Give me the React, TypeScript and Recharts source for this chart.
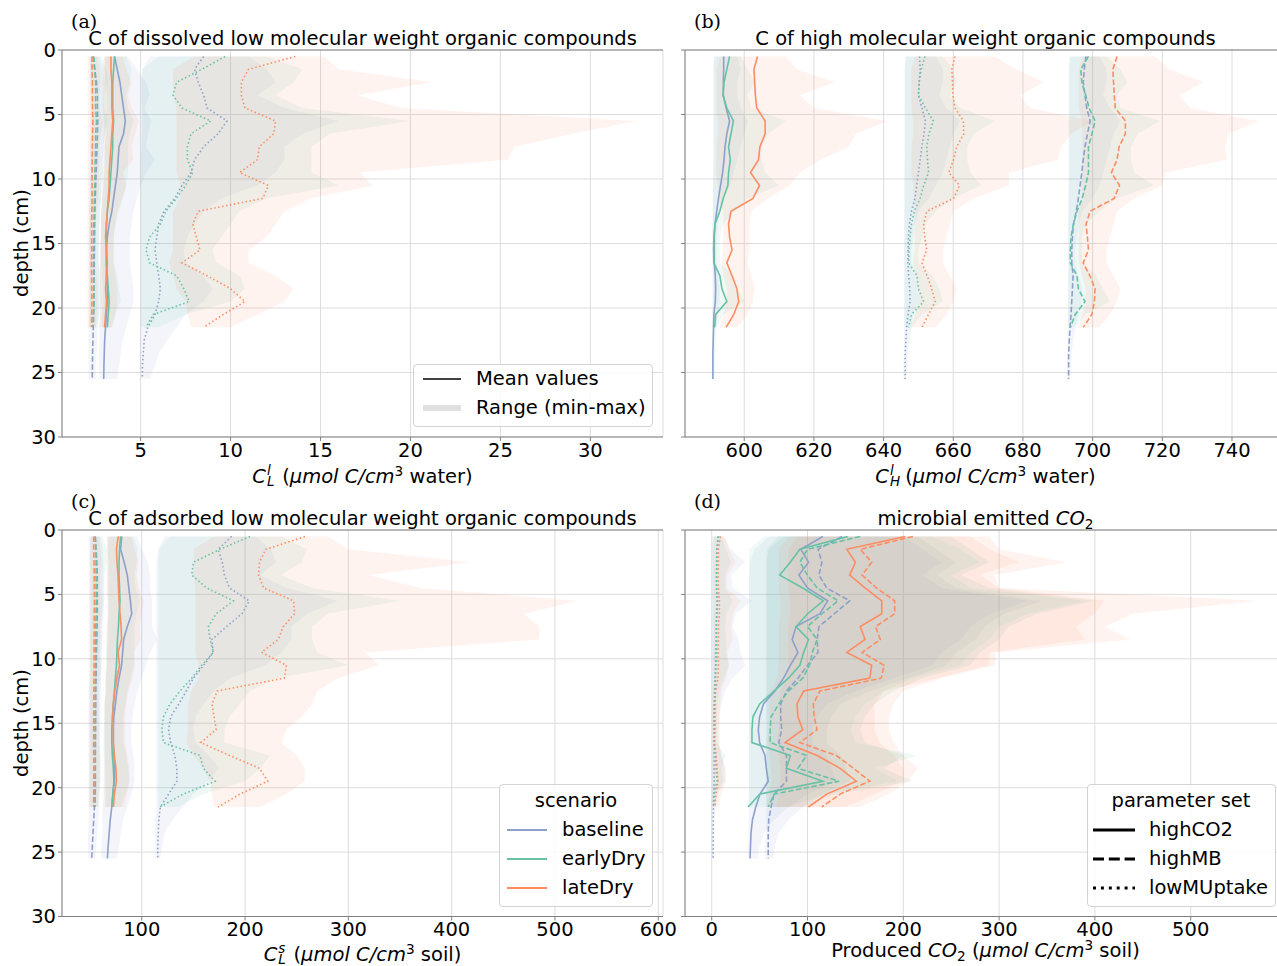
import React from "react";
import { ComposedChart, Line, Area, XAxis, YAxis, CartesianGrid, ReferenceLine } from "recharts";

const FONT = '"DejaVu Sans", "Liberation Sans", sans-serif';
const SERIF = '"DejaVu Serif", "Liberation Serif", serif';
const FS = 19.5;
const AXIS_GRAY = "#808080";
const GRID_GRAY = "#dddddd";
// Set2 colours: baseline, earlyDry, lateDry
const SET2 = ["#8da0cb", "#66c2a5", "#fc8d62"];
// line style per parameter set: highCO2, highMB, lowMUptake
const DASHES: (string | undefined)[] = [undefined, "5.5 2.4", "1.5 2.5"];

const SCENARIOS = ["baseline", "earlyDry", "lateDry"];
const PARAM_SETS = ["highCO2", "highMB", "lowMUptake"];

const DEPTHS = [0.5, 1.5, 2.5, 3.5, 4.5, 5.5, 6.5, 7.5, 8.5, 9.5, 10.5, 11.5, 12.5, 13.5, 14.5, 15.5, 16.5, 17.5, 18.5, 19.5, 20.5, 21.5, 22.5, 23.5, 24.5, 25.5];
const DEPTH_TICKS = [0, 5, 10, 15, 20, 25, 30];
const TICKS_A = [5, 10, 15, 20, 25, 30];
const TICKS_B = [600, 620, 640, 660, 680, 700, 720, 740];
const TICKS_C = [100, 200, 300, 400, 500, 600];
const TICKS_D = [0, 100, 200, 300, 400, 500];

// ---------- (a) dissolved LMW C ----------
const A_BASE_HC = [3.55, 3.7, 3.85, 3.95, 4.05, 4.15, 4.05, 3.8, 3.75, 3.7, 3.6, 3.5, 3.4, 3.25, 3.15, 3.1, 3.1, 3.1, 3.15, 3.15, 3.1, 3.05, 3.0, 2.98, 2.96, 2.95];
const A_BASE_HC_MIN = [3.0, 3.0, 3.05, 3.1, 3.1, 3.1, 3.1, 3.0, 3.0, 3.0, 2.95, 2.9, 2.85, 2.8, 2.8, 2.75, 2.75, 2.75, 2.75, 2.75, 2.75, 2.7, 2.7, 2.7, 2.7, 2.7];
const A_BASE_HC_MAX = [4.3, 4.8, 5.3, 5.5, 5.2, 5.6, 5.4, 5.3, 5.8, 5.3, 5.0, 4.8, 4.6, 4.5, 4.4, 4.4, 4.4, 4.5, 4.6, 4.6, 4.4, 4.2, 4.0, 3.9, 3.8, 3.7];
const A_BASE_HMB = [2.35, 2.45, 2.55, 2.6, 2.6, 2.62, 2.6, 2.58, 2.55, 2.53, 2.5, 2.48, 2.46, 2.45, 2.44, 2.43, 2.42, 2.41, 2.4, 2.4, 2.38, 2.37, 2.35, 2.33, 2.32, 2.31];
const A_BASE_HMB_MIN = [2.15, 2.2, 2.2, 2.25, 2.25, 2.25, 2.25, 2.2, 2.2, 2.2, 2.2, 2.2, 2.15, 2.15, 2.15, 2.15, 2.15, 2.15, 2.15, 2.15, 2.15, 2.1, 2.1, 2.1, 2.1, 2.1];
const A_BASE_HMB_MAX = [2.7, 2.9, 3.0, 3.0, 3.0, 3.1, 3.0, 2.95, 2.9, 2.85, 2.8, 2.8, 2.75, 2.7, 2.7, 2.7, 2.7, 2.7, 2.7, 2.7, 2.65, 2.6, 2.6, 2.55, 2.5, 2.5];
const A_BASE_LMU = [8.5, 8.0, 8.2, 8.5, 8.7, 9.8, 9.3, 8.5, 8.0, 7.8, 7.3, 6.9, 6.3, 6.0, 5.9, 5.8, 5.9, 6.0, 6.1, 6.0, 5.8, 5.4, 5.2, 5.15, 5.1, 5.1];
const A_BASE_LMU_MIN = [5.5, 5.1, 5.05, 5.05, 5.1, 5.1, 5.1, 5.05, 5.05, 5.05, 5.0, 5.0, 5.0, 5.0, 5.0, 5.0, 5.0, 5.0, 5.0, 5.0, 5.0, 5.0, 4.95, 4.95, 4.95, 4.95];
const A_BASE_LMU_MAX = [11, 12, 12.5, 11.5, 13, 16, 14, 13, 13, 12.5, 11.5, 9.5, 8.5, 8, 7.6, 7.4, 7.5, 8.5, 9, 8.5, 7.5, 7, 6.5, 6, 5.8, 5.5];
const A_EARLY_HC = [3.55, 3.5, 3.45, 3.45, 3.45, 3.5, 3.45, 3.45, 3.4, 3.35, 3.3, 3.25, 3.15, 3.1, 3.1, 3.1, 3.1, 3.15, 3.2, 3.25, 3.2, 3.15];
const A_EARLY_HC_MIN = [3.05, 3.0, 3.0, 3.0, 3.0, 3.0, 3.0, 3.0, 3.0, 2.95, 2.9, 2.85, 2.8, 2.8, 2.8, 2.8, 2.8, 2.85, 2.9, 2.9, 2.85, 2.85];
const A_EARLY_HC_MAX = [4.2, 4.5, 4.4, 4.2, 4.3, 4.6, 4.4, 4.3, 4.3, 4.3, 4.2, 4.0, 3.8, 3.6, 3.5, 3.5, 3.5, 3.7, 3.8, 3.9, 3.6, 3.4];
const A_EARLY_HMB = [2.4, 2.45, 2.5, 2.5, 2.5, 2.55, 2.5, 2.5, 2.48, 2.46, 2.45, 2.43, 2.42, 2.4, 2.4, 2.38, 2.38, 2.4, 2.4, 2.42, 2.38, 2.36];
const A_EARLY_HMB_MIN = [2.2, 2.2, 2.2, 2.2, 2.2, 2.2, 2.2, 2.2, 2.2, 2.2, 2.2, 2.15, 2.15, 2.15, 2.15, 2.15, 2.15, 2.15, 2.15, 2.15, 2.15, 2.15];
const A_EARLY_HMB_MAX = [2.8, 3.1, 3.2, 3.0, 3.0, 3.2, 3.0, 2.9, 2.9, 2.9, 2.9, 2.8, 2.7, 2.7, 2.65, 2.65, 2.65, 2.8, 2.8, 2.85, 2.7, 2.6];
const A_EARLY_LMU = [9.7, 8.4, 7.0, 6.8, 7.3, 8.9, 7.8, 7.6, 7.6, 7.9, 7.5, 7.0, 6.4, 6.1, 5.5, 5.3, 5.5, 7.0, 7.4, 7.7, 5.7, 5.3];
const A_EARLY_LMU_MIN = [6.0, 5.1, 5.05, 5.05, 5.05, 5.05, 5.05, 5.05, 5.0, 5.0, 5.0, 5.0, 5.0, 5.0, 5.0, 5.0, 5.0, 5.0, 5.0, 5.0, 5.0, 5.0];
const A_EARLY_LMU_MAX = [12, 14, 13.5, 12.5, 14, 20, 15.5, 14.5, 14.5, 14.5, 16, 12, 10.5, 10, 9.5, 9, 9.2, 10.5, 10.8, 10, 7.5, 6];
const A_LATE_HC = [3.35, 3.35, 3.4, 3.4, 3.4, 3.45, 3.4, 3.35, 3.3, 3.25, 3.25, 3.2, 3.15, 3.1, 3.05, 3.1, 3.15, 3.1, 3.05, 3.1, 3.05, 3.0];
const A_LATE_HC_MIN = [2.95, 2.9, 2.9, 2.9, 2.9, 2.95, 2.95, 2.9, 2.9, 2.85, 2.9, 2.85, 2.8, 2.8, 2.75, 2.75, 2.75, 2.75, 2.75, 2.8, 2.75, 2.7];
const A_LATE_HC_MAX = [4.0, 4.2, 4.5, 4.3, 4.5, 4.9, 4.7, 4.5, 4.6, 4.0, 4.2, 4.0, 3.7, 3.6, 3.5, 3.5, 3.5, 3.6, 3.7, 3.7, 3.6, 3.4];
const A_LATE_HMB = [2.3, 2.3, 2.32, 2.32, 2.33, 2.35, 2.33, 2.32, 2.31, 2.3, 2.3, 2.3, 2.29, 2.28, 2.28, 2.28, 2.27, 2.28, 2.28, 2.29, 2.28, 2.27];
const A_LATE_HMB_MIN = [2.05, 2.05, 2.06, 2.06, 2.06, 2.07, 2.06, 2.06, 2.05, 2.05, 2.05, 2.05, 2.05, 2.04, 2.04, 2.04, 2.04, 2.04, 2.04, 2.04, 2.04, 2.04];
const A_LATE_HMB_MAX = [2.6, 2.7, 2.8, 2.7, 2.7, 2.9, 2.8, 2.7, 2.7, 2.65, 2.7, 2.65, 2.55, 2.5, 2.5, 2.5, 2.5, 2.55, 2.6, 2.6, 2.55, 2.5];
const A_LATE_LMU = [13.6, 11.0, 10.6, 10.6, 10.8, 12.5, 12.4, 11.6, 11.5, 10.5, 12.1, 11.8, 8.2, 7.9, 8.1, 8.3, 7.3, 8.7, 10.0, 10.8, 9.6, 8.5];
const A_LATE_LMU_MIN = [8, 6.8, 6.8, 6.8, 7, 7, 7, 7, 7, 7, 7.2, 7.2, 6.8, 6.8, 6.8, 6.8, 6.6, 6.8, 7, 7.5, 7.6, 7.8];
const A_LATE_LMU_MAX = [15.2, 16, 21.2, 17, 19.5, 32.6, 29, 25.8, 25.4, 17.2, 17.9, 14.5, 13, 12.5, 12, 11, 11, 12.5, 13.5, 13, 11.5, 10];

// ---------- (b) HMW C ----------
const B_BASE_HC = [594.1, 594.1, 594.0, 594.0, 594.8, 595.8, 595.0, 594.5, 594.2, 593.8, 593.2, 592.6, 592.1, 591.6, 591.4, 591.4, 591.4, 591.7, 591.8, 591.7, 591.3, 591.2, 591.1, 591.0, 591.0, 591.0];
const B_BASE_HC_MIN = [591.3, 591.2, 591.2, 591.2, 591.2, 591.2, 591.2, 591.2, 591.2, 591.1, 591.1, 591.0, 591.0, 590.9, 590.9, 590.9, 590.9, 590.9, 590.9, 590.9, 590.8, 590.8, 590.8, 590.7, 590.7, 590.7];
const B_BASE_HC_MAX = [598, 599, 598, 598, 599, 601, 600, 599, 598, 597, 596, 594, 593, 592.5, 592.2, 592, 592, 592.5, 593, 593, 592.5, 592, 591.8, 591.6, 591.5, 591.4];
const B_BASE_HMB = [698.1, 697.6, 697.3, 697.8, 698.3, 699.3, 698.5, 697.8, 697.3, 696.9, 696.4, 695.9, 695.3, 694.5, 694.2, 694.0, 694.0, 694.4, 694.2, 694.0, 693.8, 693.5, 693.3, 693.1, 693.1, 693.1];
const B_BASE_HMB_MIN = [693.4, 693.3, 693.3, 693.3, 693.3, 693.3, 693.3, 693.3, 693.2, 693.2, 693.2, 693.1, 693.1, 693, 693, 693, 693, 693, 693, 693, 692.9, 692.9, 692.8, 692.8, 692.7, 692.7];
const B_BASE_HMB_MAX = [702, 704, 704, 703, 705, 708, 706, 705, 704, 703, 702, 700, 697, 696, 695.5, 695, 695, 696, 697, 697, 696, 695, 694.5, 694, 693.8, 693.6];
const B_BASE_LMU = [650.3, 650.5, 650.2, 650.0, 651.0, 652.0, 651.6, 651.0, 650.5, 650.0, 649.5, 649.0, 648.0, 647.4, 647.1, 647.0, 647.0, 647.2, 647.5, 647.6, 647.0, 646.6, 646.4, 646.2, 646.2, 646.2];
const B_BASE_LMU_MIN = [646.3, 646.1, 646.1, 646.1, 646.1, 646.1, 646.1, 646.1, 646.1, 646, 646, 646, 646, 645.9, 645.9, 645.9, 645.9, 645.9, 645.9, 645.9, 645.8, 645.8, 645.8, 645.8, 645.7, 645.7];
const B_BASE_LMU_MAX = [655, 657, 657, 656, 658, 662, 660, 659, 658, 657, 655, 653, 650, 649, 648.5, 648, 648, 649, 650, 650, 648.5, 648, 647.5, 647, 646.8, 646.6];
const B_EARLY_HC = [595.8, 595.0, 594.2, 593.9, 595.0, 596.9, 596.2, 595.5, 596.0, 595.5, 595.3, 594.0, 593.0, 591.6, 591.3, 591.2, 591.3, 593.0, 593.6, 595.0, 591.8, 591.5];
const B_EARLY_HC_MIN = [591.5, 591.2, 591.2, 591.2, 591.2, 591.2, 591.2, 591.2, 591.2, 591.1, 591.1, 591.0, 591.0, 590.9, 590.9, 590.9, 590.9, 591, 591, 591, 590.9, 590.9];
const B_EARLY_HC_MAX = [599, 601, 603, 601, 602, 612, 607, 605, 605, 606, 610, 601, 597, 594, 593, 593, 593, 597, 598, 600, 594, 592];
const B_EARLY_HMB = [698.8, 696.6, 696.9, 698.0, 699.0, 700.7, 699.8, 698.8, 698.8, 698.8, 698.0, 697.0, 695.5, 694.5, 693.8, 693.6, 693.6, 695.5, 695.9, 697.8, 695.0, 693.6];
const B_EARLY_HMB_MIN = [693.6, 693.1, 693.1, 693.1, 693.1, 693.1, 693.1, 693.1, 693.1, 693.1, 693.1, 693, 693, 693, 693, 693, 693, 693, 693, 693, 693, 693];
const B_EARLY_HMB_MAX = [704, 708, 710, 707, 708, 719.4, 713, 711, 711, 712, 717.5, 707, 702, 698, 697, 697, 697, 701, 703, 705, 698, 695];
const B_EARLY_LMU = [651.9, 650.8, 650.2, 650.0, 652.0, 654.3, 653.0, 652.4, 652.6, 652.9, 651.5, 650.5, 648.8, 648.0, 647.6, 647.3, 647.2, 649.6, 650.0, 651.5, 648.0, 647.2];
const B_EARLY_LMU_MIN = [646.4, 646, 646, 646, 646, 646, 646, 646, 646, 646, 646, 646, 646, 646, 646, 646, 646, 646, 646, 646, 646, 646];
const B_EARLY_LMU_MAX = [657, 660, 661, 659, 662, 672, 666, 664, 664, 665, 668, 660, 655, 652, 651, 650, 650, 654, 656, 657, 651, 648];
const B_LATE_HC = [603.8, 602.8, 603.0, 603.2, 603.6, 606.0, 606.0, 604.5, 604.1, 601.8, 604.4, 602.5, 596.2, 595.5, 595.8, 596.5, 595.0, 596.5, 597.9, 598.4, 597.0, 594.8];
const B_LATE_HC_MIN = [593, 592, 592, 592, 592, 592.5, 592.5, 592, 592, 592, 592.5, 592.5, 594, 594, 594, 594, 593.5, 594, 595, 595, 594, 593];
const B_LATE_HC_MAX = [612, 615, 626, 616, 620, 641, 632, 630, 622, 616, 613, 607, 602, 601.5, 601.5, 601.5, 601, 602, 603, 602.5, 601, 598];
const B_LATE_HMB = [707.0, 705.8, 706.0, 706.2, 706.5, 709.4, 709.4, 707.6, 707.0, 705.4, 707.7, 706.2, 699.3, 698.1, 698.5, 698.8, 697.3, 699.2, 700.7, 700.5, 699.8, 697.3];
const B_LATE_HMB_MIN = [697, 696, 696, 696, 696, 697, 697, 697, 697, 697, 697, 697, 696, 696, 696, 696, 696, 697, 698, 698, 697, 696];
const B_LATE_HMB_MAX = [718, 722, 732, 725, 728, 747.6, 739, 738, 738.5, 721, 720, 712, 707, 706, 705, 704, 704, 706, 708, 707, 705, 702];
const B_LATE_LMU = [660.5, 659.6, 659.8, 659.9, 660.5, 662.9, 663.0, 661.0, 660.1, 658.7, 661.8, 660.1, 652.4, 651.5, 651.8, 652.4, 651.0, 652.5, 653.8, 654.8, 652.9, 651.0];
const B_LATE_LMU_MIN = [649, 648, 648, 648, 648, 648.5, 648.5, 648, 648, 648, 648.5, 648.5, 649, 649, 649, 649, 648.5, 649, 650, 650, 649, 648];
const B_LATE_LMU_MAX = [672, 678, 686, 679, 682, 700, 694, 691, 690, 676, 676, 666, 660, 659, 658, 657, 657, 659, 661, 660, 658, 655];

// ---------- (c) adsorbed LMW C ----------
const C_BASE_HC = [80.6, 79.5, 83, 86, 87.5, 89, 90.3, 86, 82.5, 81.5, 80.5, 78, 76, 74.5, 73, 72.5, 72.5, 73, 74, 73.5, 72, 71, 69.5, 68.5, 67.5, 66.7];
const C_BASE_HC_MIN = [67, 67, 68, 68, 68, 68, 68, 67, 67, 66, 66, 65, 65, 64, 64, 63, 63, 63, 63, 63, 63, 62, 62, 62, 61, 61];
const C_BASE_HC_MAX = [95, 100, 106, 108, 108, 110, 110, 110, 115, 108, 104, 100, 96, 93, 91, 90, 90, 92, 93, 93, 90, 86, 82, 80, 78, 76];
const C_BASE_HMB = [55, 55.8, 56.5, 57, 57, 57, 57, 56.8, 56.5, 56.2, 56, 55.8, 55.6, 55.5, 55.4, 55.3, 55.2, 55.1, 55, 54.8, 54.5, 54.2, 53.5, 52.8, 52.2, 51.6];
const C_BASE_HMB_MIN = [50, 50, 50, 50.5, 50.5, 50.5, 50.5, 50.5, 50, 50, 50, 50, 49.5, 49.5, 49.5, 49.5, 49.5, 49.5, 49.5, 49.5, 49, 49, 48.5, 48, 48, 48];
const C_BASE_HMB_MAX = [60, 62, 63, 63, 63, 63, 63, 62, 62, 61, 61, 61, 60, 60, 60, 60, 60, 60, 60, 60, 59, 59, 58, 57, 56, 55];
const C_BASE_LMU = [187, 174, 178, 180, 185, 204, 197, 182, 168, 169, 160, 150, 143, 136, 128, 126, 128, 132, 134, 134, 126, 118, 116.5, 116, 115.5, 115.5];
const C_BASE_LMU_MIN = [122, 116, 114, 114, 114, 114, 114, 114, 114, 114, 114, 114, 114, 114, 114, 114, 114, 114, 114, 114, 114, 114, 113, 113, 113, 113];
const C_BASE_LMU_MAX = [210, 225, 230, 215, 240, 290, 260, 245, 245, 235, 220, 185, 170, 160, 152, 150, 152, 165, 175, 165, 150, 140, 130, 122, 120, 118];
const C_EARLY_HC = [79.5, 78.5, 78, 78, 78.5, 79, 78, 77.5, 76.5, 76, 75.5, 74.5, 73.5, 72.5, 71.5, 71, 71, 71.5, 72.5, 73, 72, 71];
const C_EARLY_HC_MIN = [68, 67, 67, 67, 67, 67, 67, 67, 66, 66, 66, 65, 65, 64, 64, 64, 64, 64, 65, 65, 65, 65];
const C_EARLY_HC_MAX = [92, 96, 95, 93, 94, 98, 95, 93, 93, 93, 92, 89, 86, 84, 82, 82, 82, 85, 87, 88, 84, 80];
const C_EARLY_HMB = [55, 55.5, 55.8, 55.8, 55.8, 56, 55.8, 55.6, 55.5, 55.4, 55.3, 55.2, 55, 54.9, 54.8, 54.8, 54.8, 55, 55.1, 55.2, 55, 54.8];
const C_EARLY_HMB_MIN = [50.5, 50, 50, 50, 50, 50, 50, 50, 50, 50, 50, 50, 49.5, 49.5, 49.5, 49.5, 49.5, 49.5, 49.5, 49.5, 49.5, 49.5];
const C_EARLY_HMB_MAX = [62, 66, 66, 64, 63, 64, 62, 61, 61, 61, 61, 60, 60, 59, 59, 59, 59, 60, 60, 60, 59, 58];
const C_EARLY_LMU = [204.8, 175.8, 150, 148.4, 162.9, 188.7, 172, 164.5, 166, 169.3, 158, 148.4, 137, 127.4, 121, 119.4, 121, 156.4, 159.6, 171, 140, 117.7];
const C_EARLY_LMU_MIN = [127, 117, 116, 116, 116, 116, 116, 116, 116, 116, 116, 116, 116, 116, 116, 116, 116, 116, 116, 116, 116, 116];
const C_EARLY_LMU_MAX = [235, 260, 255, 235, 265, 350, 280, 265, 265, 270, 300, 230, 205, 195, 185, 180, 180, 224, 215, 200, 160, 135];
const C_LATE_HC = [77.3, 75.5, 76, 77, 77.5, 78, 79, 80, 80.5, 77, 78.5, 76, 74, 72.5, 72, 72.5, 72.5, 73.5, 75, 75.5, 73.5, 72.5];
const C_LATE_HC_MIN = [66, 66, 66, 66, 66, 67, 67, 66, 66, 66, 66, 65, 65, 64, 64, 64, 64, 64, 64, 64, 64, 64];
const C_LATE_HC_MAX = [90, 93, 97, 95, 97, 102, 100, 98, 99, 92, 94, 91, 87, 85, 84, 84, 84, 86, 88, 88, 86, 83];
const C_LATE_HMB = [53.5, 53.5, 53.8, 54, 54, 54.2, 54, 54, 53.8, 53.8, 53.8, 53.7, 53.6, 53.5, 53.5, 53.5, 53.4, 53.5, 53.6, 53.6, 53.5, 53.4];
const C_LATE_HMB_MIN = [49, 49, 49, 49, 49, 49, 49, 49, 49, 49, 49, 49, 48.5, 48.5, 48.5, 48.5, 48.5, 48.5, 48.5, 48.5, 48.5, 48.5];
const C_LATE_HMB_MAX = [59, 60, 61, 60, 60, 62, 61, 60, 60, 59, 60, 59, 58, 58, 58, 58, 58, 59, 59, 59, 58, 57];
const C_LATE_LMU = [258, 220, 214, 213, 218, 247, 248, 237, 232, 216, 240, 238, 173, 168, 170, 172, 157, 185, 214, 222, 195, 174];
const C_LATE_LMU_MIN = [170, 150, 150, 150, 152, 152, 152, 152, 152, 152, 155, 155, 148, 145, 145, 145, 143, 150, 160, 166, 168, 170];
const C_LATE_LMU_MAX = [280, 300, 418, 320, 370, 522, 470, 485, 485, 316, 330, 290, 270, 265, 255, 240, 235, 250, 258, 258, 240, 215];

// ---------- (d) microbial emitted CO2 ----------
const D_BASE_HC = [116, 93, 101, 91, 100, 121, 113, 88, 84, 90, 82, 75, 66, 54, 50, 48.6, 50, 55.6, 57, 59, 50.4, 46, 42.5, 41, 40.5, 40];
const D_BASE_HC_MIN = [60, 45, 40, 39, 39, 39, 39, 39, 39, 39, 39, 39, 39, 39, 39, 39, 39, 39, 39, 39, 39, 39, 38.5, 38.5, 38, 38];
const D_BASE_HC_MAX = [200, 220, 240, 220, 240, 330, 290, 270, 260, 240, 230, 190, 150, 120, 110, 105, 105, 120, 125, 130, 100, 80, 65, 55, 50, 48];
const D_BASE_HMB = [136, 111, 115, 112, 120, 144, 128, 112, 110, 111, 100, 90, 78, 72, 72, 73, 70, 78, 78, 78, 65, 62, 59.5, 59, 59, 59];
const D_BASE_HMB_MIN = [75, 60, 57, 57, 57, 57, 57, 57, 57, 57, 57, 57, 57, 57, 57, 57, 57, 57, 57, 57, 57, 57, 56.5, 56.5, 56, 56];
const D_BASE_HMB_MAX = [215, 235, 255, 235, 255, 345, 305, 285, 275, 255, 245, 205, 165, 135, 125, 120, 120, 135, 140, 145, 115, 95, 80, 70, 66, 64];
const D_BASE_LMU = [6.5, 5.5, 5.5, 5, 5, 5.5, 5, 4.5, 4.5, 4, 4, 3.5, 3, 2.5, 2.5, 2.5, 2.5, 2.5, 2.5, 2.5, 2, 1.8, 1.6, 1.5, 1.5, 1.5];
const D_BASE_LMU_MIN = [1, 0.5, 0.5, 0.5, 0.5, 0.5, 0.5, 0.5, 0.5, 0.5, 0.5, 0.4, 0.4, 0.4, 0.3, 0.3, 0.3, 0.3, 0.3, 0.3, 0.3, 0.2, 0.2, 0.2, 0.2, 0.2];
const D_BASE_LMU_MAX = [12, 20, 35, 20, 22, 42, 25, 22, 28, 30, 35, 22, 14, 10, 8, 7, 7, 10, 14, 14, 6, 4, 3, 2.5, 2.2, 2];
const D_EARLY_HC = [142, 92, 82, 71, 95, 116.5, 100, 88, 101, 96, 92, 80, 65, 50, 43, 42, 42, 82, 78, 116, 50, 38];
const D_EARLY_HC_MIN = [55, 39, 39, 39, 39, 39, 39, 39, 39, 39, 39, 39, 39, 39, 39, 39, 39, 39, 39, 39, 39, 36];
const D_EARLY_HC_MAX = [230, 260, 280, 250, 270, 390, 330, 300, 290, 270, 260, 210, 180, 160, 150, 145, 150, 215, 170, 195, 120, 80];
const D_EARLY_HMB = [155, 100, 92, 100, 110, 132, 115, 100, 110, 105, 102, 95, 80, 70, 62, 61, 61, 99, 90, 133, 65, 59];
const D_EARLY_HMB_MIN = [70, 57, 57, 57, 57, 57, 57, 57, 57, 57, 57, 57, 57, 57, 57, 57, 57, 57, 57, 57, 57, 57];
const D_EARLY_HMB_MAX = [250, 270, 290, 260, 290, 400, 340, 310, 300, 280, 270, 220, 190, 170, 160, 155, 160, 200, 180, 210, 130, 95];
const D_EARLY_LMU = [7, 5.5, 5, 5, 5, 6, 5.5, 5, 5, 5, 4.5, 4, 3.5, 3, 2.5, 2.5, 2.5, 4, 4.5, 5.5, 2.5, 2];
const D_EARLY_LMU_MIN = [1, 0.5, 0.5, 0.5, 0.5, 0.5, 0.5, 0.5, 0.5, 0.5, 0.5, 0.4, 0.4, 0.4, 0.3, 0.3, 0.3, 0.3, 0.3, 0.3, 0.3, 0.2];
const D_EARLY_LMU_MAX = [10, 15, 20, 14, 14, 22, 15, 14, 15, 15, 18, 12, 8, 6, 5, 5, 5, 14, 10, 12, 5, 3];
const D_LATE_HC = [202, 141, 150, 144, 160, 177.5, 177.5, 155, 160, 141, 167, 165, 96, 89, 90, 95, 76.5, 110, 134, 151, 120, 101];
const D_LATE_HC_MIN = [80, 70, 70, 70, 70, 72, 72, 70, 70, 70, 70, 68, 62, 60, 60, 60, 58, 60, 62, 62, 60, 58];
const D_LATE_HC_MAX = [270, 290, 320, 280, 300, 410, 400, 380, 390, 290, 290, 235, 180, 170, 170, 170, 175, 190, 200, 200, 170, 140];
const D_LATE_HMB = [210, 155, 167, 157, 172, 191, 191, 171, 176, 157, 180, 177, 113, 106, 107, 110, 92, 130, 148, 165, 134, 115];
const D_LATE_HMB_MIN = [90, 80, 80, 80, 80, 82, 82, 80, 80, 80, 80, 78, 72, 70, 70, 70, 68, 70, 72, 72, 70, 68];
const D_LATE_HMB_MAX = [290, 300, 370, 295, 300, 570, 440, 410, 437, 296, 296, 240, 200, 190, 185, 185, 190, 200, 215, 205, 185, 155];
const D_LATE_LMU = [9, 7, 7, 6.5, 7, 8, 8, 7, 7, 6.5, 7, 6.5, 4, 3.5, 3.5, 3.5, 3, 4.5, 5.5, 6.5, 4.5, 3.5];
const D_LATE_LMU_MIN = [2, 1.5, 1.5, 1.5, 1.5, 1.5, 1.5, 1.5, 1.5, 1.5, 1.5, 1.5, 1, 1, 1, 1, 1, 1, 1, 1, 1, 1];
const D_LATE_LMU_MAX = [14, 18, 25, 16, 16, 30, 22, 20, 22, 16, 18, 15, 10, 9, 8, 8, 8, 10, 14, 15, 10, 7];

type Trio = [number[], number[], number[]];

// one row per depth; m<s><p> = mean, r<s><p> = [min, max]
function buildRows(series: Trio[][]) {
  return DEPTHS.map((depth, i) => {
    const row: Record<string, unknown> = { depth };
    series.forEach((sets, s) =>
      sets.forEach(([mean, lo, hi], p) => {
        if (i < mean.length) {
          row[`m${s}${p}`] = mean[i];
          row[`r${s}${p}`] = [lo[i], hi[i]];
        }
      })
    );
    return row;
  });
}

const ROWS_A = buildRows([
  [[A_BASE_HC, A_BASE_HC_MIN, A_BASE_HC_MAX], [A_BASE_HMB, A_BASE_HMB_MIN, A_BASE_HMB_MAX], [A_BASE_LMU, A_BASE_LMU_MIN, A_BASE_LMU_MAX]],
  [[A_EARLY_HC, A_EARLY_HC_MIN, A_EARLY_HC_MAX], [A_EARLY_HMB, A_EARLY_HMB_MIN, A_EARLY_HMB_MAX], [A_EARLY_LMU, A_EARLY_LMU_MIN, A_EARLY_LMU_MAX]],
  [[A_LATE_HC, A_LATE_HC_MIN, A_LATE_HC_MAX], [A_LATE_HMB, A_LATE_HMB_MIN, A_LATE_HMB_MAX], [A_LATE_LMU, A_LATE_LMU_MIN, A_LATE_LMU_MAX]],
]);
const ROWS_B = buildRows([
  [[B_BASE_HC, B_BASE_HC_MIN, B_BASE_HC_MAX], [B_BASE_HMB, B_BASE_HMB_MIN, B_BASE_HMB_MAX], [B_BASE_LMU, B_BASE_LMU_MIN, B_BASE_LMU_MAX]],
  [[B_EARLY_HC, B_EARLY_HC_MIN, B_EARLY_HC_MAX], [B_EARLY_HMB, B_EARLY_HMB_MIN, B_EARLY_HMB_MAX], [B_EARLY_LMU, B_EARLY_LMU_MIN, B_EARLY_LMU_MAX]],
  [[B_LATE_HC, B_LATE_HC_MIN, B_LATE_HC_MAX], [B_LATE_HMB, B_LATE_HMB_MIN, B_LATE_HMB_MAX], [B_LATE_LMU, B_LATE_LMU_MIN, B_LATE_LMU_MAX]],
]);
const ROWS_C = buildRows([
  [[C_BASE_HC, C_BASE_HC_MIN, C_BASE_HC_MAX], [C_BASE_HMB, C_BASE_HMB_MIN, C_BASE_HMB_MAX], [C_BASE_LMU, C_BASE_LMU_MIN, C_BASE_LMU_MAX]],
  [[C_EARLY_HC, C_EARLY_HC_MIN, C_EARLY_HC_MAX], [C_EARLY_HMB, C_EARLY_HMB_MIN, C_EARLY_HMB_MAX], [C_EARLY_LMU, C_EARLY_LMU_MIN, C_EARLY_LMU_MAX]],
  [[C_LATE_HC, C_LATE_HC_MIN, C_LATE_HC_MAX], [C_LATE_HMB, C_LATE_HMB_MIN, C_LATE_HMB_MAX], [C_LATE_LMU, C_LATE_LMU_MIN, C_LATE_LMU_MAX]],
]);
const ROWS_D = buildRows([
  [[D_BASE_HC, D_BASE_HC_MIN, D_BASE_HC_MAX], [D_BASE_HMB, D_BASE_HMB_MIN, D_BASE_HMB_MAX], [D_BASE_LMU, D_BASE_LMU_MIN, D_BASE_LMU_MAX]],
  [[D_EARLY_HC, D_EARLY_HC_MIN, D_EARLY_HC_MAX], [D_EARLY_HMB, D_EARLY_HMB_MIN, D_EARLY_HMB_MAX], [D_EARLY_LMU, D_EARLY_LMU_MIN, D_EARLY_LMU_MAX]],
  [[D_LATE_HC, D_LATE_HC_MIN, D_LATE_HC_MAX], [D_LATE_HMB, D_LATE_HMB_MIN, D_LATE_HMB_MAX], [D_LATE_LMU, D_LATE_LMU_MIN, D_LATE_LMU_MAX]],
]);

type Box = { left: number; top: number; width: number; height: number };
type Plot = { l: number; r: number; t: number; b: number };

const X_AXIS_H = 30;
const TICK_STYLE = { fill: "#000", fontSize: FS, fontFamily: FONT };

function Panel({ rows, domain, ticks, box, plot, yLabels }: { rows: any[]; domain: [number, number]; ticks: number[]; box: Box; plot: Plot; yLabels: boolean }) {
  const yW = yLabels ? 40 : 10;
  const margin = {
    left: plot.l - box.left - yW,
    right: box.left + box.width - plot.r,
    top: plot.t - box.top,
    bottom: box.top + box.height - plot.b - X_AXIS_H,
  };
  const idx: [number, number][] = [];
  SCENARIOS.forEach((_, s) => PARAM_SETS.forEach((__, p) => idx.push([s, p])));
  return (
    <div style={{ position: "absolute", left: box.left, top: box.top }}>
      <ComposedChart width={box.width} height={box.height} layout="vertical" data={rows} margin={margin}>
        <CartesianGrid stroke={GRID_GRAY} strokeWidth={1} />
        <XAxis
          type="number"
          domain={domain}
          ticks={ticks}
          interval={0}
          allowDataOverflow
          height={X_AXIS_H}
          stroke={AXIS_GRAY}
          tickSize={4}
          tickMargin={2}
          tick={TICK_STYLE}
        />
        {/* vertical layout already puts the low end of a numeric y axis at the top */}
        <YAxis
          type="number"
          dataKey="depth"
          domain={[0, 30]}
          ticks={DEPTH_TICKS}
          interval={0}
          allowDataOverflow
          width={yW}
          stroke={AXIS_GRAY}
          tickSize={4}
          tickMargin={2}
          tick={TICK_STYLE}
          tickFormatter={yLabels ? undefined : () => ""}
        />
        {idx.map(([s, p]) => (
          <Area
            key={`r${s}${p}`}
            dataKey={`r${s}${p}`}
            type="linear"
            stroke="none"
            fill={SET2[s]}
            fillOpacity={0.1}
            dot={false}
            activeDot={false}
            isAnimationActive={false}
          />
        ))}
        {idx.map(([s, p]) => (
          <Line
            key={`m${s}${p}`}
            dataKey={`m${s}${p}`}
            type="linear"
            stroke={SET2[s]}
            strokeWidth={1.6}
            strokeDasharray={DASHES[p]}
            dot={false}
            activeDot={false}
            isAnimationActive={false}
          />
        ))}
        <ReferenceLine y={0} stroke={AXIS_GRAY} strokeWidth={1} />
      </ComposedChart>
    </div>
  );
}

const It = ({ children }: { children: React.ReactNode }) => <span style={{ fontStyle: "italic" }}>{children}</span>;
const Sup = ({ children }: { children: React.ReactNode }) => (
  <span style={{ fontSize: "0.7em", position: "relative", top: "-0.55em", lineHeight: 0 }}>{children}</span>
);
const Sub = ({ children }: { children: React.ReactNode }) => (
  <span style={{ fontSize: "0.7em", position: "relative", top: "0.3em", lineHeight: 0 }}>{children}</span>
);
function SubSup({ sub, sup }: { sub: string; sup: string }) {
  return (
    <span style={{ display: "inline-block", position: "relative", width: 10, height: 20, fontStyle: "italic" }}>
      <span style={{ position: "absolute", left: 1, top: 0, fontSize: 13.5, lineHeight: "14px" }}>{sup}</span>
      <span style={{ position: "absolute", left: 1, top: 11, fontSize: 13.5, lineHeight: "14px" }}>{sub}</span>
    </span>
  );
}

function Text({ cx, left, top, children, size = FS, family = FONT }: { cx?: number; left?: number; top: number; children: React.ReactNode; size?: number; family?: string }) {
  const base: React.CSSProperties = {
    position: "absolute",
    top,
    fontFamily: family,
    fontSize: size,
    lineHeight: "20px",
    whiteSpace: "nowrap",
    color: "#000",
  };
  if (cx !== undefined) return <div style={{ ...base, left: cx - 300, width: 600, textAlign: "center" }}>{children}</div>;
  return <div style={{ ...base, left }}>{children}</div>;
}

function Sample({ left, top, color, dash, width, len }: { left: number; top: number; color: string; dash?: string; width: number; len: number }) {
  return (
    <svg width={len} height={10} style={{ position: "absolute", left, top: top - 5 }}>
      <line x1={0} y1={5} x2={len} y2={5} stroke={color} strokeWidth={width} strokeDasharray={dash} />
    </svg>
  );
}

const legendBox = (left: number, top: number, width: number, height: number): React.CSSProperties => ({
  position: "absolute",
  left,
  top,
  width,
  height,
  boxSizing: "border-box",
  border: "1px solid #d3d3d3",
  borderRadius: 4,
  background: "rgba(255,255,255,0.85)",
});

const DepthLabel = ({ cy }: { cy: number }) => (
  <div
    style={{
      position: "absolute",
      left: 22 - 100,
      top: cy - 10,
      width: 200,
      height: 20,
      textAlign: "center",
      fontFamily: FONT,
      fontSize: FS,
      lineHeight: "20px",
      transform: "rotate(-90deg)",
    }}
  >
    depth (cm)
  </div>
);

const PARAM_DASH_THICK = [undefined, "11 4.8", "3 4.9"];

export default function App() {
  const cxL = (62 + 663) / 2;
  const cxR = (685 + 1286) / 2;
  return (
    <div style={{ position: "absolute", left: 0, top: 0, width: 1277, height: 966, background: "#fff", overflow: "hidden" }}>
      <Panel rows={ROWS_A} domain={[0.63, 34.04]} ticks={TICKS_A} box={{ left: 0, top: 0, width: 680, height: 490 }} plot={{ l: 62, r: 663, t: 50, b: 437 }} yLabels />
      <Panel rows={ROWS_B} domain={[583.0, 755.5]} ticks={TICKS_B} box={{ left: 665, top: 0, width: 622, height: 490 }} plot={{ l: 685, r: 1286, t: 50, b: 437 }} yLabels={false} />
      <Panel rows={ROWS_C} domain={[22.8, 604.6]} ticks={TICKS_C} box={{ left: 0, top: 480, width: 680, height: 490 }} plot={{ l: 62, r: 663, t: 530, b: 916.5 }} yLabels />
      <Panel rows={ROWS_D} domain={[-27.9, 599.5]} ticks={TICKS_D} box={{ left: 665, top: 480, width: 622, height: 490 }} plot={{ l: 685, r: 1286, t: 530, b: 916.5 }} yLabels={false} />

      {/* panel tags */}
      <Text left={71} top={11} family={SERIF} size={19}>(a)</Text>
      <Text left={694} top={11} family={SERIF} size={19}>(b)</Text>
      <Text left={71} top={491} family={SERIF} size={19}>(c)</Text>
      <Text left={694} top={491} family={SERIF} size={19}>(d)</Text>

      {/* titles */}
      <Text cx={cxL} top={29}>C of dissolved low molecular weight organic compounds</Text>
      <Text cx={cxR} top={29}>C of high molecular weight organic compounds</Text>
      <Text cx={cxL} top={509}>C of adsorbed low molecular weight organic compounds</Text>
      <Text cx={cxR} top={509}>
        microbial emitted <It>CO</It>
        <Sub>2</Sub>
      </Text>

      {/* axis labels */}
      <Text cx={cxL} top={463}>
        <It>C</It>
        <SubSup sub="L" sup="l" /> (<It>μmol C/cm</It>
        <Sup>3</Sup> water)
      </Text>
      <Text cx={cxR} top={463}>
        <It>C</It>
        <SubSup sub="H" sup="l" /> (<It>μmol C/cm</It>
        <Sup>3</Sup> water)
      </Text>
      <Text cx={cxL} top={941}>
        <It>C</It>
        <SubSup sub="L" sup="s" /> (<It>μmol C/cm</It>
        <Sup>3</Sup> soil)
      </Text>
      <Text cx={cxR} top={941}>
        Produced <It>CO</It>
        <Sub>2</Sub> (<It>μmol C/cm</It>
        <Sup>3</Sup> soil)
      </Text>
      <DepthLabel cy={243} />
      <DepthLabel cy={723} />

      {/* legend (a) */}
      <div style={legendBox(413, 364, 240, 63)} />
      <Sample left={423} top={379} color="#000" width={1.5} len={38} />
      <Text left={476} top={369}>Mean values</Text>
      <Sample left={423} top={408} color="#e0e0e0" width={6} len={38} />
      <Text left={476} top={398}>Range (min-max)</Text>

      {/* legend (c): scenario */}
      <div style={legendBox(499, 784, 154, 123)} />
      <Text cx={576} top={791}>scenario</Text>
      {SCENARIOS.map((name, s) => (
        <React.Fragment key={name}>
          <Sample left={507} top={830 + s * 29} color={SET2[s]} width={2} len={40} />
          <Text left={562} top={820 + s * 29}>{name}</Text>
        </React.Fragment>
      ))}

      {/* legend (d): parameter set */}
      <div style={legendBox(1087, 784, 189, 123)} />
      <Text cx={1181} top={791}>parameter set</Text>
      {PARAM_SETS.map((name, p) => (
        <React.Fragment key={name}>
          <Sample left={1093} top={830 + p * 29} color="#000" width={3} dash={PARAM_DASH_THICK[p]} len={42} />
          <Text left={1149} top={820 + p * 29}>{name}</Text>
        </React.Fragment>
      ))}
    </div>
  );
}
